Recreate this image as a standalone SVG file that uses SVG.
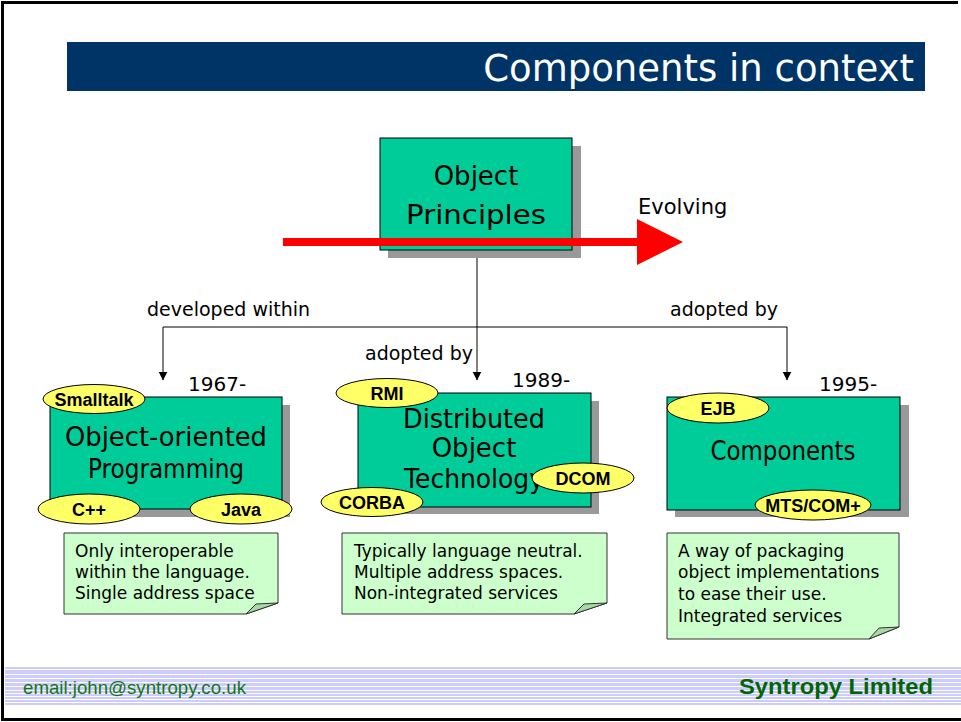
<svg xmlns="http://www.w3.org/2000/svg" width="961" height="722" viewBox="0 0 961 722">
<style>
.box{fill:#00CC99;stroke:#000;stroke-width:1}
.shadow{fill:#999999}
.big{font-family:"DejaVu Sans",sans-serif;font-size:26px;fill:#000;text-anchor:middle}
.lbl{font-family:"DejaVu Sans",sans-serif;font-size:19px;fill:#000}
.yr{font-family:"DejaVu Sans",sans-serif;font-size:20px;fill:#000}
.ell{fill:#FFFF66;stroke:#000;stroke-width:1}
.et{font-family:"Liberation Sans",Arial,sans-serif;font-size:18px;font-weight:bold;fill:#000;text-anchor:middle}
.note{fill:#CCFFCC;stroke:#333;stroke-width:1}
.fold{fill:#A8D8A8;stroke:#333;stroke-width:1}
.nt{font-family:"DejaVu Sans",sans-serif;font-size:17px;fill:#000}
.conn{stroke:#000;stroke-width:1;fill:none}
.stripe{stroke:#fff;stroke-width:1}
</style>
<defs>
<marker id="ah" markerWidth="9" markerHeight="10" refX="8.5" refY="4.5" orient="auto" markerUnits="userSpaceOnUse">
<path d="M0,0 L9,4.5 L0,9 Z" fill="#000"/>
</marker>
</defs>
<rect width="961" height="722" fill="#fff"/>
<path d="M958 2.5 H2.5 V719.5 H961" fill="none" stroke="#000" stroke-width="3"/>

<g id="title">
<rect x="67" y="42" width="858" height="49" fill="#003366"/>
<text x="914" y="81" font-family="DejaVu Sans, sans-serif" font-size="37" fill="#fff" text-anchor="end">Components in context</text>
</g>

<g id="connectors">
<line class="conn" x1="477" y1="250" x2="477" y2="380" marker-end="url(#ah)"/>
<line class="conn" x1="163" y1="327" x2="787" y2="327"/>
<line class="conn" x1="163" y1="327" x2="163" y2="380" marker-end="url(#ah)"/>
<line class="conn" x1="787" y1="327" x2="787" y2="380" marker-end="url(#ah)"/>
<text class="lbl" x="147" y="316">developed within</text>
<text class="lbl" x="670" y="316">adopted by</text>
<text class="lbl" x="365" y="360">adopted by</text>
</g>

<g id="object-principles">
<rect class="shadow" x="388" y="146" width="193" height="112"/>
<rect class="box" x="380" y="138" width="192" height="112"/>
<text class="big" x="476" y="185" font-size="30">Object</text>
<text class="big" x="476" y="224" font-size="30" textLength="140" lengthAdjust="spacingAndGlyphs">Principles</text>
</g>

<g id="evolving">
<rect x="283" y="238" width="356" height="8" fill="#FF0000"/>
<polygon points="637,219 683,242 637,265" fill="#FF0000"/>
<text x="638" y="214" font-family="DejaVu Sans, sans-serif" font-size="21" fill="#000">Evolving</text>
</g>

<g id="oop">
<rect class="shadow" x="58" y="405" width="232" height="112"/>
<rect class="box" x="50" y="397" width="232" height="112"/>
<text class="big" x="166" y="446" textLength="202" lengthAdjust="spacingAndGlyphs">Object-oriented</text>
<text class="big" x="166" y="478" textLength="156" lengthAdjust="spacingAndGlyphs">Programming</text>
<text class="yr" x="188" y="391">1967-</text>
<ellipse class="ell" cx="94" cy="399" rx="51" ry="14.5"/>
<text class="et" x="94" y="405.5">Smalltalk</text>
<ellipse class="ell" cx="89" cy="509" rx="51" ry="15"/>
<text class="et" x="89" y="515.5">C++</text>
<ellipse class="ell" cx="241" cy="509" rx="51" ry="15"/>
<text class="et" x="241" y="515.5">Java</text>
</g>

<g id="dot">
<rect class="shadow" x="366" y="401" width="233" height="113"/>
<rect class="box" x="358" y="393" width="233" height="114"/>
<text class="big" x="474" y="428" textLength="142" lengthAdjust="spacingAndGlyphs">Distributed</text>
<text class="big" x="474" y="457">Object</text>
<text class="big" x="474" y="488" textLength="140" lengthAdjust="spacingAndGlyphs">Technology</text>
<text class="yr" x="512" y="387">1989-</text>
<ellipse class="ell" cx="387" cy="393" rx="51" ry="14.5"/>
<text class="et" x="387" y="399.5">RMI</text>
<ellipse class="ell" cx="583" cy="478" rx="51" ry="15"/>
<text class="et" x="583" y="484.5">DCOM</text>
<ellipse class="ell" cx="372" cy="502" rx="51" ry="14.5"/>
<text class="et" x="372" y="508.5">CORBA</text>
</g>

<g id="components">
<rect class="shadow" x="675" y="405" width="234" height="112"/>
<rect class="box" x="667" y="397" width="233" height="113"/>
<text class="big" x="783" y="460" textLength="145" lengthAdjust="spacingAndGlyphs">Components</text>
<text class="yr" x="819" y="391">1995-</text>
<ellipse class="ell" cx="718" cy="408" rx="51" ry="15"/>
<text class="et" x="718" y="414.5">EJB</text>
<ellipse class="ell" cx="813" cy="505" rx="58" ry="15"/>
<text class="et" x="813" y="511.5">MTS/COM+</text>
</g>

<g id="note1">
<path class="note" d="M64 533 H278 V603 L246 614 H64 Z"/>
<path class="fold" d="M246 614 L256 604 L278 603 Z"/>
<text class="nt" x="75" y="557">Only interoperable</text>
<text class="nt" x="75" y="578">within the language.</text>
<text class="nt" x="75" y="599">Single address space</text>
</g>

<g id="note2">
<path class="note" d="M342 533 H607 V603 L574 614 H342 Z"/>
<path class="fold" d="M574 614 L584 604 L607 603 Z"/>
<text class="nt" x="354" y="557">Typically language neutral.</text>
<text class="nt" x="354" y="578">Multiple address spaces.</text>
<text class="nt" x="354" y="599">Non-integrated services</text>
</g>

<g id="note3">
<path class="note" d="M667 533 H899 V627 L869 639 H667 Z"/>
<path class="fold" d="M869 639 L879 628 L899 627 Z"/>
<text class="nt" x="678" y="557">A way of packaging</text>
<text class="nt" x="678" y="578">object implementations</text>
<text class="nt" x="678" y="600">to ease their use.</text>
<text class="nt" x="678" y="622">Integrated services</text>
</g>

<g id="footer">
<rect x="5" y="667" width="956" height="38" fill="#CCCCFF"/>
<g class="stripe">
<line x1="5" y1="669.5" x2="961" y2="669.5"/>
<line x1="5" y1="674.5" x2="961" y2="674.5"/>
<line x1="5" y1="678.5" x2="961" y2="678.5"/>
<line x1="5" y1="682.5" x2="961" y2="682.5"/>
<line x1="5" y1="686.5" x2="961" y2="686.5"/>
<line x1="5" y1="690.5" x2="961" y2="690.5"/>
<line x1="5" y1="693.5" x2="961" y2="693.5"/>
<line x1="5" y1="696.5" x2="961" y2="696.5"/>
<line x1="5" y1="699.5" x2="961" y2="699.5"/>
<line x1="5" y1="702.5" x2="961" y2="702.5"/>
</g>
<text x="23" y="694" font-family="Liberation Sans, Arial, sans-serif" font-size="18" fill="#117711" textLength="223" lengthAdjust="spacingAndGlyphs">email:john@syntropy.co.uk</text>
<text x="739" y="694" font-family="Liberation Sans, Arial, sans-serif" font-size="22" font-weight="bold" fill="#006600" textLength="194" lengthAdjust="spacingAndGlyphs">Syntropy Limited</text>
</g>
</svg>
